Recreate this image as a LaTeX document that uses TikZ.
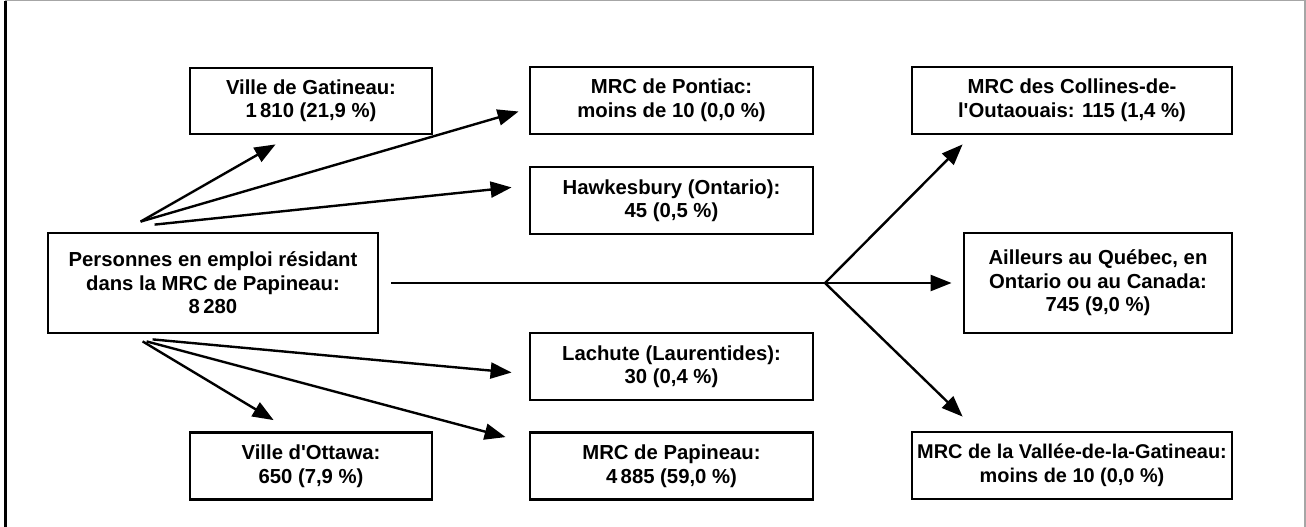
\documentclass[tikz,border=0pt]{standalone}
\usepackage{fontspec}
\setmainfont{Liberation Sans}
\usetikzlibrary{arrows.meta,calc}
\tikzset{
  box/.style={draw=black,line width=2.8pt,align=center,inner sep=0pt,
    font=\fontsize{20.3}{23.5}\selectfont\bfseries},
  flow/.style={line width=2.4pt,-{Triangle[length=21pt,width=16pt]}},
  plain/.style={line width=2.4pt},
  frameline/.style={draw=black!35,line width=1.2pt}
}
\begin{document}
\begin{tikzpicture}[x=1pt,y=-1pt]
\useasboundingbox (0,0) rectangle (1306,527);
% frame
\coordinate (ftl) at (5,0.6);
\coordinate (fbl) at (5,527);
\coordinate (ftr) at (1305,0.6);
\coordinate (fbr) at (1305,527);
\draw[frameline] (ftl) -- (ftr) -- (fbr);
\draw[line width=3pt] (ftl) -- (fbl);

% nodes
\node[box,minimum width=330pt,minimum height=100pt] (main) at (213,283)
  {Personnes en emploi résidant\\dans la MRC de Papineau:\\8\,280};
\node[box,minimum width=242pt,minimum height=66pt] (gat) at (311,101)
  {Ville de Gatineau:\\1\,810 (21,9 \%)};
\node[box,minimum width=242pt,minimum height=67pt] (ott) at (311,466)
  {Ville d\textquotesingle Ottawa:\\650 (7,9 \%)};
\node[box,minimum width=283pt,minimum height=67pt] (pon) at (671.5,100.5)
  {MRC de Pontiac:\\moins de 10 (0,0 \%)};
\node[box,minimum width=283pt,minimum height=67pt] (haw) at (671.5,200.5)
  {Hawkesbury (Ontario):\\45 (0,5 \%)};
\node[box,minimum width=283pt,minimum height=67pt] (lac) at (671.5,366.5)
  {Lachute (Laurentides):\\30 (0,4 \%)};
\node[box,minimum width=283pt,minimum height=67pt] (pap) at (671.5,466)
  {MRC de Papineau:\\4\,885 (59,0 \%)};
\node[box,minimum width=320pt,minimum height=67pt] (col) at (1072,100.5)
  {MRC des Collines-de-\\l\textquotesingle Outaouais: 115 (1,4 \%)};
\node[box,minimum width=268pt,minimum height=100pt] (ail) at (1098,283)
  {Ailleurs au Québec, en\\Ontario ou au Canada:\\745 (9,0 \%)};
\node[box,minimum width=320pt,minimum height=67pt,
  font=\fontsize{19.9}{23.5}\selectfont\bfseries] (val) at (1072,465.5)
  {MRC de la Vallée-de-la-Gatineau:\\moins de 10 (0,0 \%)};

% connector points
\coordinate (s1) at ($(main.north west)+(94,-10)$);
\coordinate (s2) at ($(main.north west)+(108,-7)$);
\coordinate (b1) at ($(main.south west)+(96,7)$);
\coordinate (b2) at ($(main.south west)+(106,5)$);
\coordinate (b3) at ($(main.south west)+(100,7)$);
\coordinate (m0) at ($(main.east)+(12,0)$);
\coordinate (j) at (825,283);

\coordinate (tgat) at ($(gat.south west)+(87,9)$);
\coordinate (tpon) at ($(pon.west)+(-10,11)$);
\coordinate (thaw) at ($(haw.south west)+(-17,-48)$);
\coordinate (tott) at ($(ott.north west)+(85,-11)$);
\coordinate (tlac) at ($(lac.west)+(-17,6)$);
\coordinate (tpap) at ($(pap.north west)+(-23,6)$);
\coordinate (tcol) at ($(col.south west)+(52,9)$);
\coordinate (tail) at ($(ail.west)+(-11,0)$);
\coordinate (tval) at ($(val.north west)+(52,-14)$);

% connectors
\draw[flow] (s1) -- (tgat);
\draw[flow] (s1) -- (tpon);
\draw[flow] (s2) -- (thaw);
\draw[flow] (b1) -- (tott);
\draw[flow] (b2) -- (tlac);
\draw[flow] (b3) -- (tpap);
\draw[plain] (m0) -- (j);
\draw[flow] (j) -- (tcol);
\draw[flow] (j) -- (tail);
\draw[flow] (j) -- (tval);
\end{tikzpicture}
\end{document}
